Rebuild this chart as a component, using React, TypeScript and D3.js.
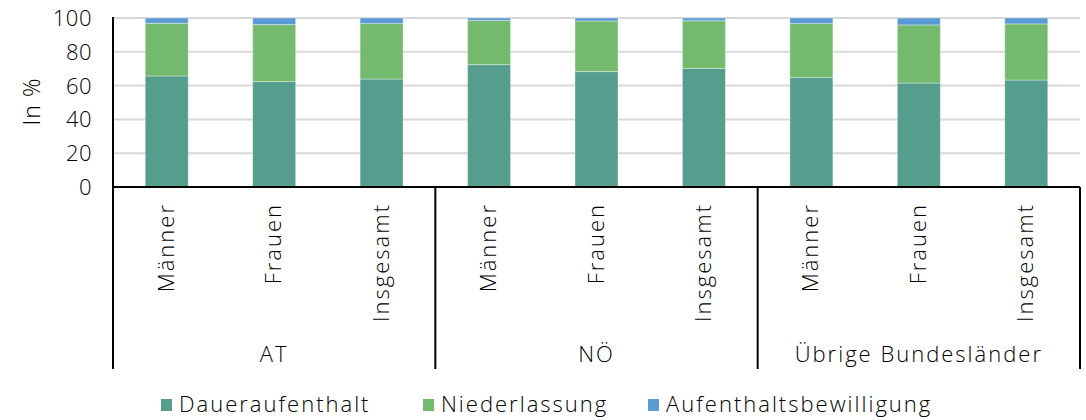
import React from "react";
import * as d3 from "d3";

const groups = ["AT", "NÖ", "Übrige Bundesländer"];
const subgroups = ["Männer", "Frauen", "Insgesamt"];
const seriesNames = ["Daueraufenthalt", "Niederlassung", "Aufenthaltsbewilligung"];
const colors = ["#559D8D", "#74BA6E", "#5B9BD5"];

// values per bar, ordered AT (M, F, I), NÖ (M, F, I), Übrige (M, F, I)
const daueraufenthalt = [65.7, 62.4, 63.9, 72.4, 68.3, 70.2, 64.9, 61.5, 63.3];
const niederlassung = [31.2, 33.7, 32.8, 26.1, 29.9, 28.2, 31.8, 34.4, 33.2];
const aufenthaltsbewilligung = [3.1, 3.9, 3.3, 1.5, 1.8, 1.6, 3.3, 4.1, 3.5];
const yTicks = [0, 20, 40, 60, 80, 100];

const W = 1086;
const H = 420;
const FONT = "'Open Sans', Lato, sans-serif";
const FS = 22;
const LS = 2;

export default function App() {
  const left = 113;
  const right = 1080;
  const top = 18;
  const bottom = 187;
  const lineBottom = 369;

  const keys = groups.flatMap((g) => subgroups.map((s) => `${g}|${s}`));
  const x = d3.scaleBand<string>().domain(keys).range([left, right]).paddingInner(0.6).paddingOuter(0.3);
  const y = d3.scaleLinear().domain([0, 100]).range([bottom, top]);

  const rows = keys.map((k, i) => ({
    key: k,
    Daueraufenthalt: daueraufenthalt[i],
    Niederlassung: niederlassung[i],
    Aufenthaltsbewilligung: aufenthaltsbewilligung[i],
  }));
  const stacked = d3.stack<any>().keys(seriesNames)(rows);

  const groupWidth = (right - left) / groups.length;

  const legendItems = [
    { name: seriesNames[0], x: 161 },
    { name: seriesNames[1], x: 423 },
    { name: seriesNames[2], x: 648 },
  ];

  return (
    <svg
      width={W}
      height={H}
      style={{ position: "absolute", left: 0, top: 0 }}
      fontFamily={FONT}
      fontWeight={300}
      letterSpacing={LS}
    >
      {/* gridlines */}
      {yTicks.filter((t) => t > 0).map((t) => (
        <line key={t} x1={left} x2={right} y1={y(t)} y2={y(t)} stroke="#D9D9D9" strokeWidth={2} />
      ))}
      {/* bars */}
      {stacked.map((s, si) => (
        <g key={s.key} fill={colors[si]}>
          {s.map((d, i) => (
            <rect
              key={i}
              x={x(keys[i])}
              width={x.bandwidth()}
              y={y(d[1])}
              height={y(d[0]) - y(d[1])}
              stroke="#FFFFFF"
              strokeOpacity={0.35}
              strokeWidth={1}
            />
          ))}
        </g>
      ))}
      {/* y tick labels */}
      {yTicks.map((t) => (
        <text key={t} x={92} y={y(t)} dy="0.36em" textAnchor="end" fontSize={22} fill="#000" letterSpacing={0.5}>
          {t}
        </text>
      ))}
      <text transform={`translate(40,${(top + bottom) / 2 - 1}) rotate(-90)`} textAnchor="middle" fontSize={23} fill="#000" letterSpacing={1}>
        In %
      </text>
      {/* axes */}
      <line x1={left} x2={left} y1={top - 1} y2={bottom} stroke="#000" strokeWidth={2} />
      <line x1={left} x2={right} y1={bottom} y2={bottom} stroke="#000" strokeWidth={2} />
      {d3.range(groups.length + 1).map((i) => (
        <line
          key={i}
          x1={left + i * groupWidth}
          x2={left + i * groupWidth}
          y1={bottom}
          y2={lineBottom}
          stroke="#000"
          strokeWidth={2}
        />
      ))}
      {/* category labels */}
      {keys.map((k) => {
        const cx = (x(k) as number) + x.bandwidth() / 2;
        return (
          <text
            key={k}
            transform={`translate(${cx + 7},203) rotate(-90)`}
            textAnchor="end"
            fontSize={FS}
            fill="#000"
          >
            {k.split("|")[1]}
          </text>
        );
      })}
      {groups.map((g, i) => (
        <text key={g} x={left + (i + 0.5) * groupWidth} y={362} textAnchor="middle" fontSize={FS} fill="#000">
          {g}
        </text>
      ))}
      {/* legend */}
      {legendItems.map((it, i) => (
        <g key={it.name}>
          <rect x={it.x} y={399} width={11} height={12} fill={colors[i]} />
          <text x={it.x + 18} y={412} fontSize={FS} fill="#000">
            {it.name}
          </text>
        </g>
      ))}
    </svg>
  );
}
